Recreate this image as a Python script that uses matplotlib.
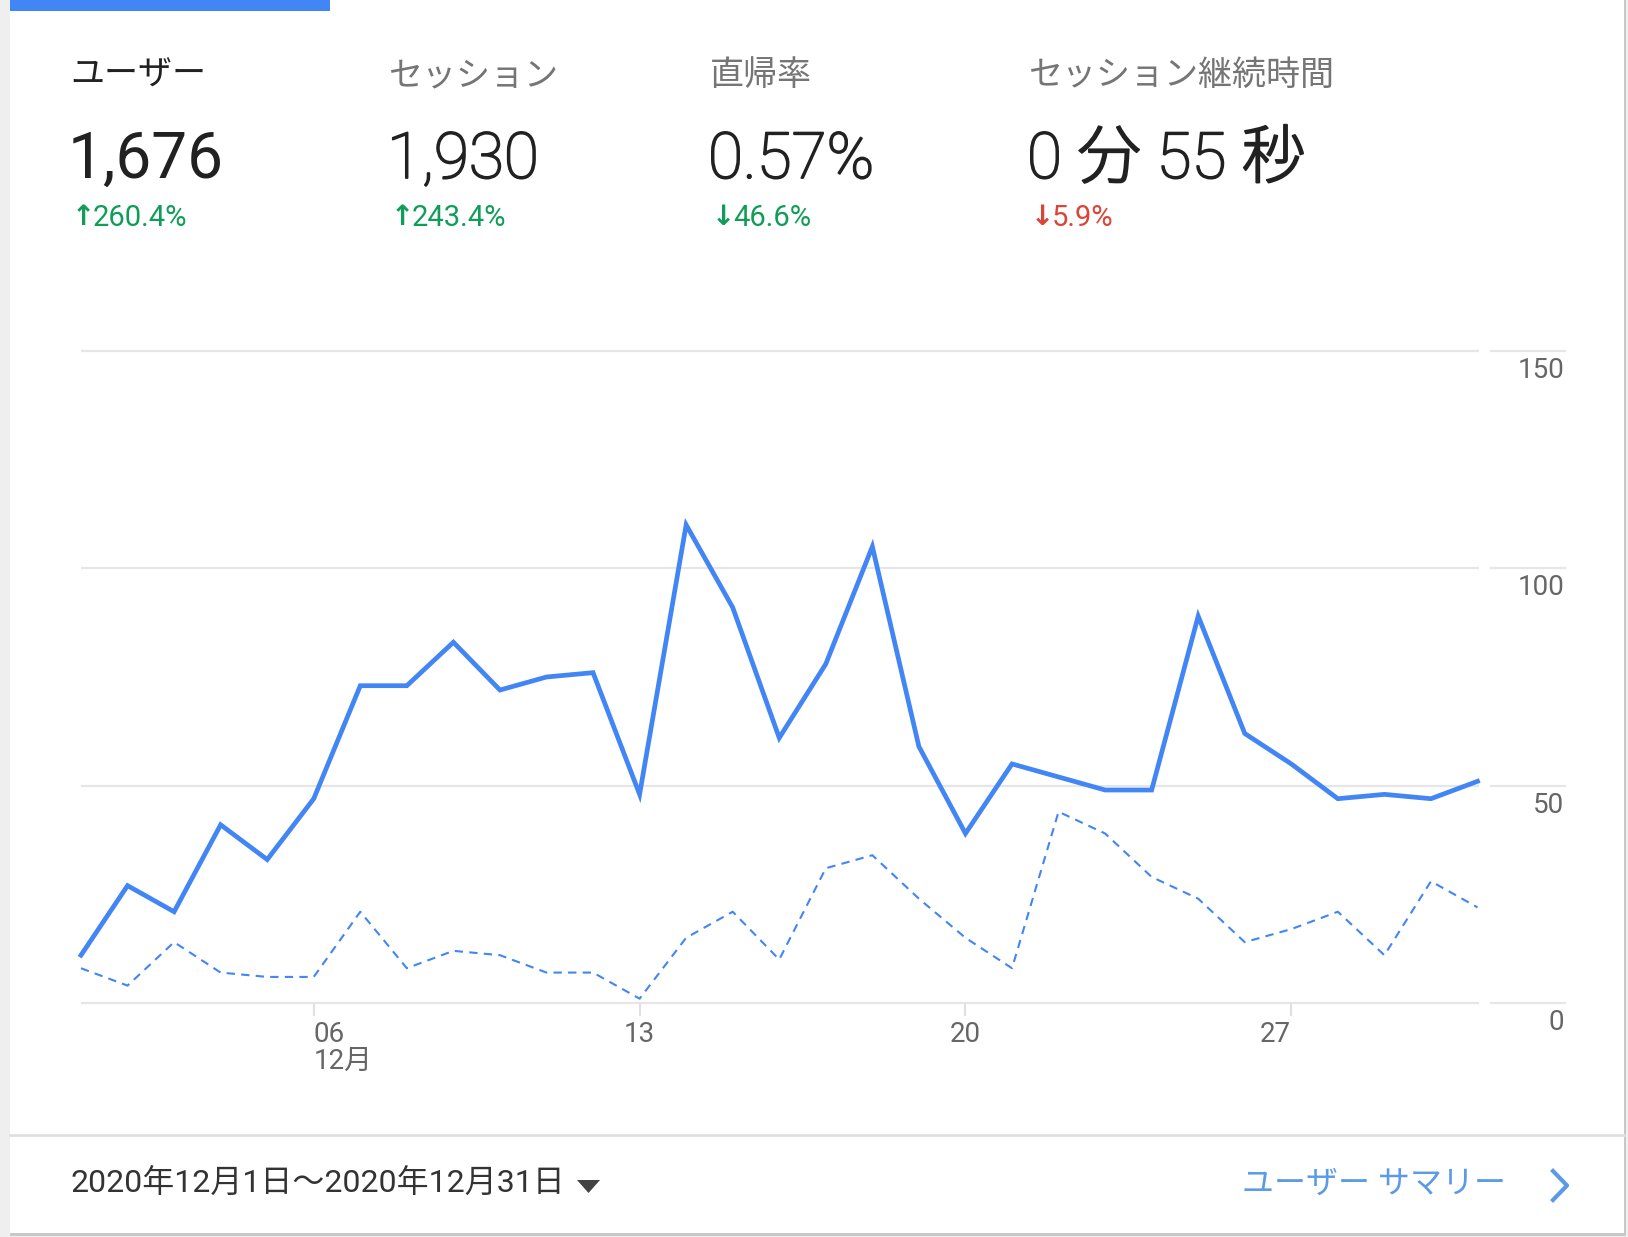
import matplotlib
matplotlib.use('Agg')
import matplotlib.pyplot as plt
import matplotlib.patheffects as pe
from matplotlib.patches import Rectangle, Polygon
from matplotlib.lines import Line2D

plt.rcParams['font.family'] = ['Roboto', 'Noto Sans CJK JP', 'DejaVu Sans']

# データ
days = list(range(1, 32))
users_now = [11, 27, 21, 41, 33, 47, 73, 73, 83, 72, 75, 76, 48, 110, 91, 61,
             78, 105, 59, 39, 55, 52, 49, 49, 89, 62, 55, 47, 48, 47, 51]
users_prev = [8, 4, 14, 7, 6, 6, 21, 8, 12, 11, 7, 7, 1, 15, 21, 10,
              31, 34, 24, 15, 8, 44, 39, 29, 24, 14, 17, 21, 11, 28, 22]

y_ticks = [0, 50, 100, 150]
x_ticks = [6, 13, 20, 27]
x_tick_labels = ['06\n12月', '13', '20', '27']

metric_names = ['ユーザー', 'セッション', '直帰率', 'セッション継続時間']
metric_values = ['1,676', '1,930', '0.57%', '0 分 55 秒']
change_arrows = ['↑', '↑', '↓', '↓']
change_values = ['260.4%', '243.4%', '46.6%', '5.9%']
change_colors = ['#0f9d58', '#0f9d58', '#0f9d58', '#db4437']
date_range = '2020年12月1日～2020年12月31日'
link_text = 'ユーザー サマリー'

W, H = 1628, 1237
blue = '#4285f4'
grid_c = '#e6e6e6'


def fx(px):
    return px / W


def fy(py):
    return 1 - py / H


fig = plt.figure(figsize=(W / 100, H / 100), dpi=100)
fig.patch.set_facecolor('#efefef')

# カード
fig.add_artist(Rectangle((fx(10), fy(1236)), fx(1616), 1236 / H,
                         transform=fig.transFigure, facecolor='#c8c8c8', edgecolor='none', zorder=-3))
fig.add_artist(Rectangle((fx(10), fy(1233)), fx(1614), 1233 / H,
                         transform=fig.transFigure, facecolor='white', edgecolor='none', zorder=-2))
fig.add_artist(Rectangle((fx(10), fy(11)), fx(320), 11 / H,
                         transform=fig.transFigure, facecolor=blue, edgecolor='none', zorder=-1))
fig.add_artist(Line2D([fx(10), fx(1624)], [fy(1135), fy(1135)],
                      transform=fig.transFigure, color='#e0e0e0', lw=2, zorder=-1))

# 指標
col_x = [70, 389, 710, 1029]
for i, x in enumerate(col_x):
    fig.text(fx(x), fy(76), metric_names[i], fontsize=24.5,
             color='#212121' if i == 0 else '#757575', va='center')
    if i == 0:
        fig.text(fx(x - 2), fy(160), metric_values[i], fontsize=46,
                 color='#212121', va='center')
    else:
        fig.text(fx(x - 2), fy(160), metric_values[i], fontsize=46,
                 color='#212121', va='center', fontweight='light',
                 path_effects=[pe.withStroke(linewidth=1.3, foreground='#212121')])
    fig.text(fx(x + 2), fy(217), change_arrows[i], fontsize=20, fontweight='bold',
             family='DejaVu Sans', color=change_colors[i], va='center')
    fig.text(fx(x + 23), fy(218), change_values[i], fontsize=21,
             color=change_colors[i], va='center')

# グラフ
ax = fig.add_axes([fx(81), 234 / H, (1477.5 - 81) / W, (1003 - 351) / H])
ax.set_xlim(1, 31)
ax.set_ylim(0, 150)
ax.set_facecolor('none')
for s in ax.spines.values():
    s.set_visible(False)

ax.hlines(y_ticks, 1, 31.04, color=grid_c, lw=1.6, zorder=0, clip_on=False)
ax.hlines(y_ticks, 31.27, 32.9, color=grid_c, lw=1.6, zorder=0, clip_on=False)

ax.plot(days, users_prev, color=blue, lw=1.5, ls=(0, (4, 3)), clip_on=False)
ax.plot(days, users_now, color=blue, lw=3.4, solid_joinstyle='miter', clip_on=False)

for v in y_ticks:
    ax.annotate(str(v), xy=(32.86, v), xytext=(0, -14), textcoords='offset points',
                ha='right', va='center', fontsize=20, color='#666666', annotation_clip=False)

ax.set_yticks([])
ax.set_xticks(x_ticks)
ax.set_xticklabels(x_tick_labels)
ax.tick_params(axis='x', length=9, width=1.5, color='#e0e0e0', pad=4,
               labelsize=20, labelcolor='#666666')
for lab, ha in zip(ax.get_xticklabels(), ['left', 'center', 'center', 'right']):
    lab.set_ha(ha)
    lab.set_linespacing(1.0)

# フッター
fig.text(fx(70), fy(1184), date_range, fontsize=23, color='#333333', va='center')
fig.add_artist(Polygon([[fx(577), fy(1180)], [fx(600), fy(1180)], [fx(588.5), fy(1193)]],
                       closed=True, transform=fig.transFigure, facecolor='#424242', edgecolor='none'))
fig.text(fx(1506), fy(1184), link_text, fontsize=23, color='#5b9be6', va='center', ha='right')
fig.add_artist(Line2D([fx(1553), fx(1567), fx(1553)], [fy(1171), fy(1185.5), fy(1200)],
                      transform=fig.transFigure, color='#5b9be6', lw=3))

fig.savefig('out.png', dpi=100, facecolor=fig.get_facecolor())
